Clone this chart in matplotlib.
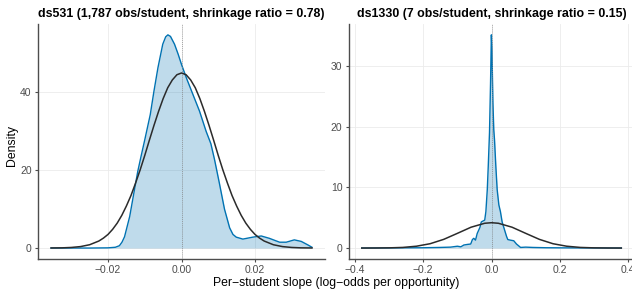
import matplotlib
matplotlib.use('Agg')
import matplotlib.pyplot as plt
import numpy as np

# panel titles
titles = ["ds531 (1,787 obs/student, shrinkage ratio = 0.78)",
          "ds1330 (7 obs/student, shrinkage ratio = 0.15)"]

ds531_x = [-0.0355, -0.025, -0.020, -0.018, -0.0169, -0.0162, -0.0155, -0.0141,
           -0.0128, -0.0119, -0.0110, -0.0100, -0.0085, -0.0075, -0.0064,
           -0.0051, -0.0043, -0.0037, -0.0030, -0.0019, -0.0009, 0.0000,
           0.0013, 0.0031, 0.0049, 0.0067, 0.0080, 0.0090, 0.0103, 0.0117,
           0.0131, 0.0140, 0.0149, 0.0167, 0.0194, 0.0217, 0.0239, 0.0267,
           0.0285, 0.0307, 0.0326, 0.0344, 0.0355]
ds531_y = [0.0, 0.0, 0.05, 0.2, 0.6, 1.5, 2.9, 8.1,
           15.0, 19.7, 23.6, 27.8, 34.3, 40.3, 46.4,
           52.4, 54.3, 54.8, 54.4, 52.4, 49.8, 47.2,
           43.8, 39.5, 35.2, 30.0, 26.8, 22.7, 16.7, 10.0,
           5.2, 3.5, 2.8, 2.3, 2.8, 3.1, 2.5, 1.5,
           1.5, 2.1, 1.7, 0.8, 0.2]

# ds531: normal reference curve
ds531_nx = [-0.0355, -0.0325, -0.030, -0.0275, -0.025, -0.0225, -0.02125, -0.020,
            -0.01875, -0.0175, -0.01625, -0.015, -0.01375, -0.0125, -0.01125,
            -0.010, -0.00875, -0.0075, -0.00625, -0.005, -0.00375, -0.0025,
            -0.00125, 0.0,
            0.00125, 0.0025, 0.00375, 0.005, 0.00625, 0.0075, 0.00875, 0.010,
            0.01125, 0.0125, 0.01375, 0.015, 0.01625, 0.0175, 0.01875, 0.020,
            0.02125, 0.0225, 0.025, 0.0275, 0.030, 0.0325, 0.0355]
ds531_ny = [0.02, 0.05, 0.15, 0.37, 0.85, 1.8, 2.55, 3.5,
            4.8, 6.4, 8.4, 10.8, 13.5, 16.7, 20.1,
            23.8, 27.7, 31.5, 35.1, 38.4, 41.2, 43.2,
            44.55, 45.0,
            44.55, 43.2, 41.2, 38.4, 35.1, 31.5, 27.7, 23.8,
            20.1, 16.7, 13.5, 10.8, 8.4, 6.4, 4.8, 3.5,
            2.55, 1.8, 0.85, 0.37, 0.15, 0.05, 0.02]

# ds1330: observed density
ds1330_x = [-0.38, -0.30, -0.20, -0.15, -0.12, -0.10, -0.09, -0.081, -0.07,
            -0.061, -0.056, -0.052, -0.047, -0.042, -0.034, -0.030, -0.020,
            -0.0166, -0.0125, -0.0097, -0.006, -0.003, -0.0005, 0.001,
            0.004, 0.0065, 0.0087, 0.0126, 0.0165, 0.0214, 0.026, 0.031,
            0.038, 0.044, 0.0476, 0.055, 0.065, 0.073, 0.085, 0.10, 0.12,
            0.16, 0.25, 0.38]
ds1330_y = [0.0, 0.02, 0.05, 0.1, 0.15, 0.3, 0.2, 0.5, 0.6,
            0.66, 1.4, 1.6, 1.3, 2.4, 3.4, 4.3, 4.6,
            6.0, 9.6, 13.4, 19.0, 27.0, 35.1, 33.0,
            24.0, 19.5, 17.8, 13.4, 9.6, 7.1, 6.0, 4.3,
            3.0, 1.9, 1.4, 1.3, 1.2, 0.66, 0.1, 0.15, 0.1,
            0.05, 0.02, 0.0]

# ds1330: normal reference curve
ds1330_nx = [-0.38, -0.34, -0.30, -0.26, -0.22, -0.18, -0.14, -0.10, -0.06, -0.02,
             0.0, 0.02, 0.06, 0.10, 0.14, 0.18, 0.22, 0.26, 0.30, 0.34, 0.38]
ds1330_ny = [0.001, 0.008, 0.03, 0.10, 0.30, 0.71, 1.43, 2.42, 3.43, 4.08,
             4.17, 4.08, 3.43, 2.42, 1.43, 0.71, 0.30, 0.10, 0.03, 0.008, 0.001]

xticks = [[-0.02, 0.0, 0.02], [-0.4, -0.2, 0.0, 0.2, 0.4]]
xticklabels = [["\u22120.02", "0.00", "0.02"], ["\u22120.4", "\u22120.2", "0.0", "0.2", "0.4"]]
yticks = [[0, 20, 40], [0, 10, 20, 30]]

blue = "#0072B2"
dark = "#2b2b2b"
axcol = "#4D4D4D"

plt.rcParams['font.family'] = ['Liberation Sans', 'DejaVu Sans']

fig = plt.figure(figsize=(6.32, 2.92), dpi=100)
ax1 = fig.add_axes([38/632, 33.3/292, 287/632, 234.5/292])
ax2 = fig.add_axes([348.8/632, 33.3/292, 285.5/632, 234.5/292])

panels = [(ax1, ds531_x, ds531_y, ds531_nx, ds531_ny),
          (ax2, ds1330_x, ds1330_y, ds1330_nx, ds1330_ny)]

for i, (ax, x, y, nx, ny) in enumerate(panels):
    ax.fill_between(x, 0, y, color=blue, alpha=0.25, lw=0, zorder=2)
    ax.plot(x, y, color=blue, lw=1.0, zorder=3)
    ax.axvline(0, color="#8c8c8c", lw=0.6, ls=(0, (1, 1.5)), zorder=4)
    ax.plot(nx, ny, color=dark, lw=1.1, zorder=5)

    xr = max(x) - min(x)
    ax.set_xlim(min(x) - 0.05*xr, max(x) + 0.05*xr)
    ymax = max(max(y), max(ny))
    ax.set_ylim(-0.05*ymax, 1.05*ymax)

    ax.set_xticks(xticks[i])
    ax.set_xticklabels(xticklabels[i])
    ax.set_yticks(yticks[i])
    ax.grid(True, color="#EBEBEB", lw=0.6, zorder=0)
    ax.set_axisbelow(True)
    for s in ["top", "right"]:
        ax.spines[s].set_visible(False)
    for s in ["left", "bottom"]:
        ax.spines[s].set_color(axcol)
        ax.spines[s].set_linewidth(1.0)
    ax.tick_params(direction="out", length=2.5, width=0.8, color=axcol,
                   labelcolor=axcol, labelsize=7.5, pad=2)
    ax.set_title(titles[i], fontsize=8.9, fontweight="bold", pad=5)

fig.text(12/632, 0.5, "Density", rotation=90, va="center", ha="center", fontsize=8.8)
fig.text(336/632, 9/292, "Per\u2212student slope (log\u2212odds per opportunity)",
         ha="center", va="center", fontsize=8.8)

fig.savefig("out.png", dpi=100)
